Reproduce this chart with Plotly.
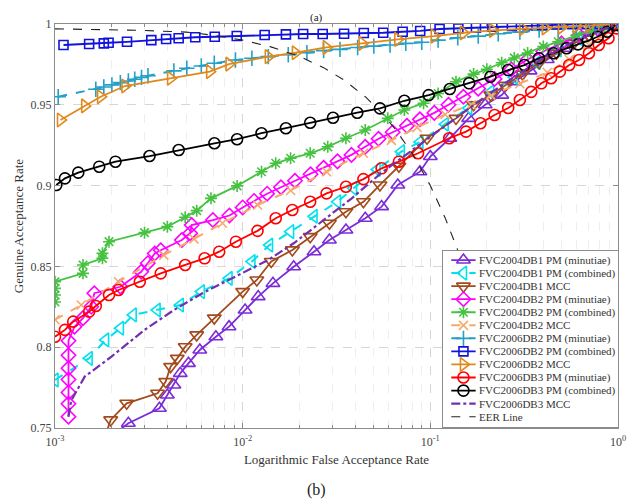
import plotly.graph_objects as go

# ---------------- data (FAR, GAR) ----------------
db1_pm_min_far = [2.0e-3, 2.46e-3, 3.6e-3, 3.97e-3, 4.3e-3, 4.65e-3, 5.14e-3, 5.91e-3, 7.2e-3, 8.46e-3, 1.03e-2, 1.21e-2,
                  1.45e-2, 1.87e-2, 2.4e-2, 2.9e-2, 3.55e-2, 4.5e-2, 5.5e-2, 6.71e-2, 8.8e-2, 0.1, 0.127, 0.16, 0.196,
                  0.24, 0.28, 0.34, 0.42, 0.52, 0.64, 0.78, 0.9, 1.0]
db1_pm_min_gar = [0.745, 0.7529, 0.7622, 0.7704, 0.7766, 0.7838, 0.79, 0.7983, 0.8065, 0.8127, 0.823, 0.8313,
                  0.8395, 0.8498, 0.8591, 0.8663, 0.8725, 0.8798, 0.887, 0.9004, 0.9086, 0.918, 0.9293, 0.9416, 0.95,
                  0.956, 0.9643, 0.971, 0.978, 0.985, 0.991, 0.996, 0.999, 1.0]

db1_pm_comb_far = [1.0e-3, 1.52e-3, 1.86e-3, 2.23e-3, 2.61e-3, 3.5e-3, 4.65e-3, 6.02e-3, 8.46e-3, 1.12e-2, 1.39e-2,
                   1.8e-2, 2.4e-2, 3.2e-2, 3.9e-2, 5.2e-2, 7.0e-2, 8.8e-2, 0.12, 0.16, 0.21, 0.28, 0.37, 0.48, 0.62,
                   0.8, 1.0]
db1_pm_comb_gar = [0.7797, 0.7931, 0.8045, 0.8117, 0.82, 0.823, 0.8261, 0.8344, 0.8426, 0.853, 0.8632,
                   0.8715, 0.881, 0.89, 0.8983, 0.91, 0.921, 0.927, 0.938, 0.948, 0.958, 0.967, 0.976, 0.984, 0.991,
                   0.996, 1.0]

db1_mcc_far = [1.85e-3, 1.98e-3, 2.41e-3, 3.52e-3, 3.89e-3, 4.13e-3, 4.48e-3, 4.94e-3, 5.69e-3, 7.06e-3, 1.0e-2, 1.19e-2,
               1.42e-2, 1.84e-2, 2.29e-2, 2.9e-2, 3.55e-2, 4.4e-2, 5.39e-2, 6.8e-2, 9.6e-2, 0.137, 0.17, 0.21,
               0.25, 0.31, 0.38, 0.47, 0.58, 0.7, 0.85, 1.0]
db1_mcc_gar = [0.745, 0.755, 0.7653, 0.7715, 0.7787, 0.788, 0.7931, 0.8003, 0.8076, 0.818, 0.8344, 0.8416,
               0.853, 0.8602, 0.8684, 0.8767, 0.8838, 0.89, 0.9004, 0.912, 0.9293, 0.9416, 0.95, 0.956,
               0.962, 0.969, 0.976, 0.982, 0.988, 0.993, 0.997, 1.0]

db2_pm_min_far = [1.18e-3, 1.18e-3, 1.18e-3, 1.18e-3, 1.18e-3, 1.18e-3, 1.18e-3, 1.27e-3, 1.41e-3, 1.56e-3, 1.62e-3,
                  2.23e-3, 2.88e-3, 3.12e-3, 3.4e-3, 3.66e-3, 4.74e-3, 5.25e-3, 5.35e-3, 6.94e-3, 8.5e-3, 1.0e-2,
                  1.15e-2, 1.35e-2, 1.6e-2, 1.9e-2, 2.3e-2, 2.7e-2, 3.2e-2, 3.8e-2, 4.5e-2, 5.3e-2, 6.3e-2, 7.5e-2,
                  8.8e-2, 0.105, 0.125, 0.15, 0.18, 0.22, 0.27, 0.33, 0.4, 0.5, 0.62, 0.78, 1.0]
db2_pm_min_gar = [0.757, 0.765, 0.772, 0.78, 0.787, 0.795, 0.804, 0.8127, 0.818, 0.825, 0.8334,
                  0.8374, 0.8467, 0.852, 0.858, 0.86, 0.8663, 0.8705, 0.8756, 0.8787, 0.8815, 0.8865,
                  0.8905, 0.895, 0.899, 0.903, 0.907, 0.911, 0.915, 0.919, 0.924, 0.929, 0.933, 0.937,
                  0.941, 0.945, 0.950, 0.955, 0.96, 0.966, 0.972, 0.978, 0.983, 0.988, 0.993, 0.997, 1.0]

db2_pm_comb_far = [1.0e-3, 1.0e-3, 1.0e-3, 1.0e-3, 1.41e-3, 1.41e-3, 1.79e-3, 1.79e-3, 1.94e-3, 3.0e-3, 3.97e-3,
                   4.94e-3, 5.69e-3, 6.78e-3, 9.34e-3, 1.26e-2, 1.5e-2, 1.8e-2, 2.29e-2, 2.84e-2, 3.55e-2, 4.5e-2,
                   5.93e-2, 7.27e-2, 9.2e-2, 0.11, 0.137, 0.17, 0.2, 0.24, 0.28, 0.33, 0.4, 0.48, 0.6, 0.72, 0.85, 1.0]
db2_pm_comb_gar = [0.8280, 0.8323, 0.8364, 0.8405, 0.8457, 0.8509, 0.855, 0.8581, 0.8653, 0.8709, 0.8746,
                   0.8804, 0.8845, 0.8921, 0.8998, 0.9086, 0.9138, 0.9169, 0.92, 0.924, 0.9293, 0.9344,
                   0.9416, 0.9468, 0.951, 0.957, 0.9643, 0.969, 0.972, 0.976, 0.979, 0.982, 0.986, 0.989, 0.993, 0.996, 0.998, 1.0]

db2_mcc_far = [1.0e-3, 1.38e-3, 2.18e-3, 3.8e-3, 5.5e-3, 7.8e-3, 1.2e-2, 1.8e-2, 2.8e-2, 4.4e-2, 6.2e-2, 8.5e-2,
               0.12, 0.165, 0.21, 0.3, 0.42, 0.55, 0.7, 0.85, 1.0]
db2_mcc_gar = [0.817, 0.8261, 0.8405, 0.857, 0.867, 0.8767, 0.888, 0.897, 0.9086, 0.92, 0.928, 0.936,
               0.944, 0.95, 0.956, 0.963, 0.97, 0.978, 0.987, 0.994, 1.0]

db6_2_pm_min_far = [1.04e-3, 1.65e-3, 1.82e-3, 2.01e-3, 2.23e-3, 2.46e-3, 2.66e-3, 2.89e-3, 3.13e-3, 4.3e-3, 5.04e-3,
                    6.02e-3, 7.06e-3, 9.15e-3, 1.12e-2, 1.37e-2, 1.75e-2, 2.2e-2, 2.7e-2, 3.3e-2, 4.1e-2, 5.0e-2,
                    6.1e-2, 7.4e-2, 9.0e-2, 0.11, 0.14, 0.18, 0.23, 0.3, 0.38, 0.48, 0.6, 0.75, 0.9, 1.0]
db6_2_pm_min_gar = [0.955, 0.9596, 0.961, 0.9623, 0.9637, 0.9647, 0.9658, 0.967, 0.968, 0.971, 0.9726,
                    0.974, 0.9757, 0.9777, 0.9788, 0.9798, 0.981, 0.9823, 0.9835, 0.9843, 0.9855, 0.9863,
                    0.987, 0.988, 0.9887, 0.990, 0.9915, 0.9925, 0.994, 0.995, 0.9962, 0.997, 0.998, 0.9988, 0.9995, 1.0]

db6_2_pm_comb_far = [1.11e-3, 1.52e-3, 1.82e-3, 1.93e-3, 2.42e-3, 3.26e-3, 3.91e-3, 4.56e-3, 5.59e-3, 7.1e-3, 9.3e-3,
                     1.31e-2, 1.70e-2, 2.10e-2, 2.67e-2, 3.47e-2, 4.42e-2, 5.61e-2, 7.12e-2, 8.83e-2, 0.112, 0.141,
                     0.175, 0.214, 0.272, 0.329, 0.394, 0.471, 0.57, 0.68, 0.8, 0.92, 1.0]
db6_2_pm_comb_gar = [0.987, 0.9876, 0.988, 0.9884, 0.989, 0.990, 0.9907, 0.9912, 0.9918, 0.9921, 0.9926,
                     0.9932, 0.9936, 0.9938, 0.9938, 0.994, 0.9944, 0.9946, 0.9952, 0.9957, 0.9969, 0.9973,
                     0.9977, 0.9983, 0.9988, 0.9992, 0.9994, 0.9997, 0.9998, 0.9999, 1.0, 1.0, 1.0]

db6_2_mcc_far = [1.07e-3, 1.44e-3, 1.75e-3, 2.36e-3, 4.13e-3, 6.67e-3, 8.46e-3, 1.37e-2, 1.91e-2, 2.79e-2, 4.33e-2,
                 6.71e-2, 0.105, 0.15, 0.215, 0.31, 0.41, 0.5, 0.6, 0.7, 0.82, 1.0]
db6_2_mcc_gar = [0.9406, 0.9493, 0.955, 0.9616, 0.9664, 0.9705, 0.9752, 0.9798, 0.9822, 0.9855, 0.988,
                 0.9905, 0.9925, 0.9945, 0.996, 0.997, 0.9975, 0.998, 0.9988, 0.9993, 0.9997, 1.0]

db6_3_pm_min_far = [1.0e-3, 1.13e-3, 1.25e-3, 1.52e-3, 1.65e-3, 1.94e-3, 2.18e-3, 2.83e-3, 3.66e-3, 4.94e-3, 6.27e-3,
                    7.5e-3, 9.2e-3, 1.2e-2, 1.5e-2, 1.84e-2, 2.29e-2, 2.8e-2, 3.55e-2, 4.4e-2, 5.5e-2, 6.8e-2,
                    8.6e-2, 0.126, 0.155, 0.185, 0.22, 0.26, 0.3, 0.345, 0.39, 0.44, 0.49, 0.55, 0.62, 0.7, 0.79,
                    0.89, 0.98]
db6_3_pm_min_gar = [0.8065, 0.8107, 0.8158, 0.822, 0.8255, 0.8323, 0.8354, 0.8405, 0.8457, 0.8509, 0.855,
                    0.8591, 0.8653, 0.872, 0.8798, 0.8849, 0.89, 0.8952, 0.8993, 0.904, 0.9107, 0.9148,
                    0.92, 0.9293, 0.9334, 0.9386, 0.9437, 0.948, 0.953, 0.958, 0.9633, 0.9664, 0.9705, 0.9746,
                    0.9777, 0.9819, 0.987, 0.9912, 0.9973]

db6_3_pm_comb_far = [1.016e-3, 1.13e-3, 1.33e-3, 1.72e-3, 2.10e-3, 3.19e-3, 4.56e-3, 7.07e-3, 9.34e-3, 1.26e-2,
                     1.70e-2, 2.29e-2, 3.03e-2, 4.08e-2, 5.39e-2, 7.27e-2, 9.8e-2, 0.127, 0.161, 0.209, 0.26, 0.317,
                     0.379, 0.454, 0.532, 0.612, 0.69, 0.778, 0.877, 0.967]
db6_3_pm_comb_gar = [0.9004, 0.9045, 0.908, 0.9117, 0.9148, 0.9183, 0.922, 0.9262, 0.9287, 0.9324,
                     0.9355, 0.9389, 0.942, 0.9451, 0.9478, 0.9525, 0.956, 0.9598, 0.9633, 0.9674, 0.9715, 0.9746,
                     0.9788, 0.9819, 0.985, 0.9874, 0.9895, 0.9921, 0.9952, 0.9994]

db6_3_mcc_far = [1.18e-3, 1.22e-3, 1.44e-3, 2.0e-3, 3.0e-3, 4.3e-3, 6.1e-3, 9.15e-3, 1.37e-2, 1.87e-2, 2.6e-2, 3.8e-2,
                 5.5e-2, 8e-2, 0.12, 0.18, 0.27, 0.4, 0.6, 0.8, 1.0]
db6_3_mcc_gar = [0.757, 0.767, 0.7818, 0.7942, 0.8107, 0.823, 0.8334, 0.8436, 0.854, 0.8643, 0.877, 0.892,
                 0.908, 0.922, 0.937, 0.952, 0.966, 0.979, 0.99, 0.996, 1.0]

eer_far = [1e-3, 1.5e-3, 2e-3, 3e-3, 5e-3, 7e-3, 1e-2, 1.4e-2, 2e-2, 2.7e-2, 3.5e-2, 4.5e-2, 5.5e-2, 6.5e-2, 8e-2,
           0.1, 0.12, 0.14, 0.17, 0.2, 0.23, 0.26, 0.3]
eer_gar = [0.997, 0.9968, 0.9965, 0.996, 0.995, 0.993, 0.99, 0.986, 0.98, 0.973, 0.965, 0.955, 0.945, 0.935, 0.92,
           0.9, 0.88, 0.86, 0.83, 0.8, 0.77, 0.74, 0.7]

x_tick_vals = [1e-3, 1e-2, 1e-1, 1]
x_tick_text = ["10<sup>-3</sup>", "10<sup>-2</sup>", "10<sup>-1</sup>", "10<sup>0</sup>"]
y_tick_vals = [0.75, 0.8, 0.85, 0.9, 0.95, 1.0]
y_tick_text = ["0.75", "0.8", "0.85", "0.9", "0.95", "1"]

# ---------------- styling ----------------
FONT = "Liberation Serif, Times New Roman, serif"
GREY = "#8c8c8c"
series = [
    # name, x, y, colour, symbol, dash, marker size, line width
    ("FVC2004DB1 PM (minutiae)", db1_pm_min_far, db1_pm_min_gar, "#7b2cd6", "triangle-up-open", "solid", 12, 1.8),
    ("FVC2004DB1 PM (combined)", db1_pm_comb_far, db1_pm_comb_gar, "#00e1ec", "triangle-left-open", "dash", 12, 2),
    ("FVC2004DB1 MCC", db1_mcc_far, db1_mcc_gar, "#a24a1c", "triangle-down-open", "solid", 12, 1.8),
    ("FVC2004DB2 PM (minutiae)", db2_pm_min_far, db2_pm_min_gar, "#ff00ff", "diamond-open", "solid", 11, 1.8),
    ("FVC2004DB2 PM (combined)", db2_pm_comb_far, db2_pm_comb_gar, "#45c240", "asterisk-open", "solid", 10, 1.8),
    ("FVC2004DB2 MCC", db2_mcc_far, db2_mcc_gar, "#f7a86a", "x-thin-open", "dash", 9, 2),
    ("FVC2006DB2 PM (minutiae)", db6_2_pm_min_far, db6_2_pm_min_gar, "#22a0c8", "cross-thin-open", "dash", 11, 2),
    ("FVC2006DB2 PM (combined)", db6_2_pm_comb_far, db6_2_pm_comb_gar, "#1212dd", "square-open", "solid", 9, 1.8),
    ("FVC2006DB2 MCC", db6_2_mcc_far, db6_2_mcc_gar, "#e0891c", "triangle-right-open", "solid", 12, 1.8),
    ("FVC2006DB3 PM (minutiae)", db6_3_pm_min_far, db6_3_pm_min_gar, "#ff0000", "circle-open", "solid", 11, 1.8),
    ("FVC2006DB3 PM (combined)", db6_3_pm_comb_far, db6_3_pm_comb_gar, "#000000", "circle-open", "solid", 11, 1.8),
    ("FVC2006DB3 MCC", db6_3_mcc_far, db6_3_mcc_gar, "#7030b0", None, "dashdot", 0, 2.2),
    ("EER Line", eer_far, eer_gar, "#222222", None, "dash", 0, 1.1),
]

fig = go.Figure()
for name, xs, ys, col, sym, dash, size, lw in series:
    if sym:
        fig.add_trace(go.Scatter(
            x=xs, y=ys, name=name, mode="lines+markers", showlegend=False,
            line=dict(color=col, width=lw, dash=dash),
            marker=dict(symbol=sym, size=size, color=col, line=dict(color=col, width=1.6)),
            xaxis="x", yaxis="y"))
    else:
        fig.add_trace(go.Scatter(
            x=xs, y=ys, name=name, mode="lines", showlegend=False,
            line=dict(color=col, width=lw, dash=dash), xaxis="x", yaxis="y"))

# compact legend drawn in an inset axes (rows are legend slots, not data)
LEG_X = [0, 179]
LEG_Y = [12.79, -0.69]
fig.add_trace(go.Scatter(x=[LEG_X[0], LEG_X[1], LEG_X[1], LEG_X[0], LEG_X[0]],
                         y=[LEG_Y[0], LEG_Y[0], LEG_Y[1], LEG_Y[1], LEG_Y[0]],
                         mode="lines", fill="toself", fillcolor="white", line=dict(width=0, color="white"),
                         showlegend=False, hoverinfo="skip", xaxis="x2", yaxis="y2"))
legend_rows = list(range(len(series)))
annotations = []
for row, (name, xs, ys, col, sym, dash, size, lw) in zip(legend_rows, series):
    fig.add_trace(go.Scatter(x=[8, 33], y=[row, row], mode="lines", showlegend=False, hoverinfo="skip",
                             line=dict(color=col, width=lw, dash=dash),
                             xaxis="x2", yaxis="y2"))
    if sym:
        fig.add_trace(go.Scatter(x=[20.5], y=[row], mode="markers", showlegend=False, hoverinfo="skip",
                                 marker=dict(symbol=sym, size=size, color=col, line=dict(color=col, width=1.6)),
                                 xaxis="x2", yaxis="y2"))
    annotations.append(dict(text=name, x=34, y=row, xref="x2", yref="y2", xanchor="left", yanchor="middle",
                            showarrow=False, font=dict(family=FONT, size=11, color="#333333")))

annotations += [
    dict(text="(a)", x=0.465, y=1.0, xref="paper", yref="paper", yanchor="top", yshift=15, showarrow=False,
         font=dict(family=FONT, size=11, color="#222222")),
    dict(text="(b)", x=0.465, y=-0.153, xref="paper", yref="paper", yanchor="middle", showarrow=False,
         font=dict(family=FONT, size=16, color="#222222")),
]

fig.update_layout(
    width=627, height=496,
    margin=dict(l=40, r=9, t=16, b=76),
    paper_bgcolor="white", plot_bgcolor="white",
    font=dict(family=FONT, size=12, color="#333333"),
    showlegend=False,
    annotations=annotations,
    xaxis=dict(
        type="log", range=[-3, 0], domain=[0, 1],
        tickvals=x_tick_vals, ticktext=x_tick_text,
        tickfont=dict(family=FONT, size=12, color="#444444"),
        title=dict(text="Logarithmic False Acceptance Rate", font=dict(family=FONT, size=13, color="#333333"), standoff=6),
        showgrid=True, gridcolor="#d6d6d6", griddash="dash", gridwidth=1,
        minor=dict(showgrid=True, gridcolor="#eeeeee", ticks="inside", ticklen=3, tickcolor=GREY, dtick="D1"),
        ticks="inside", ticklen=5, tickcolor=GREY, ticklabelstandoff=3,
        showline=True, linecolor=GREY, linewidth=1, mirror="ticks", zeroline=False),
    yaxis=dict(
        range=[0.75, 1.0], domain=[0, 1],
        tickvals=y_tick_vals, ticktext=y_tick_text,
        tickfont=dict(family=FONT, size=12, color="#444444"),
        title=dict(text="Genuine Acceptance Rate", font=dict(family=FONT, size=13, color="#333333"), standoff=4),
        showgrid=True, gridcolor="#d6d6d6", griddash="dash", gridwidth=1,
        ticks="inside", ticklen=5, tickcolor=GREY,
        showline=True, linecolor=GREY, linewidth=1, mirror="ticks", zeroline=False),
    xaxis2=dict(domain=[0.690, 1.0], anchor="y2", range=LEG_X, showgrid=False, zeroline=False,
                showticklabels=False, ticks="", showline=True, mirror=True, linecolor=GREY, fixedrange=True),
    yaxis2=dict(domain=[0.0025, 0.438], anchor="x2", range=LEG_Y, showgrid=False, zeroline=False,
                showticklabels=False, ticks="", showline=True, mirror=True, linecolor=GREY, fixedrange=True),
)

fig.write_html("out.html")
